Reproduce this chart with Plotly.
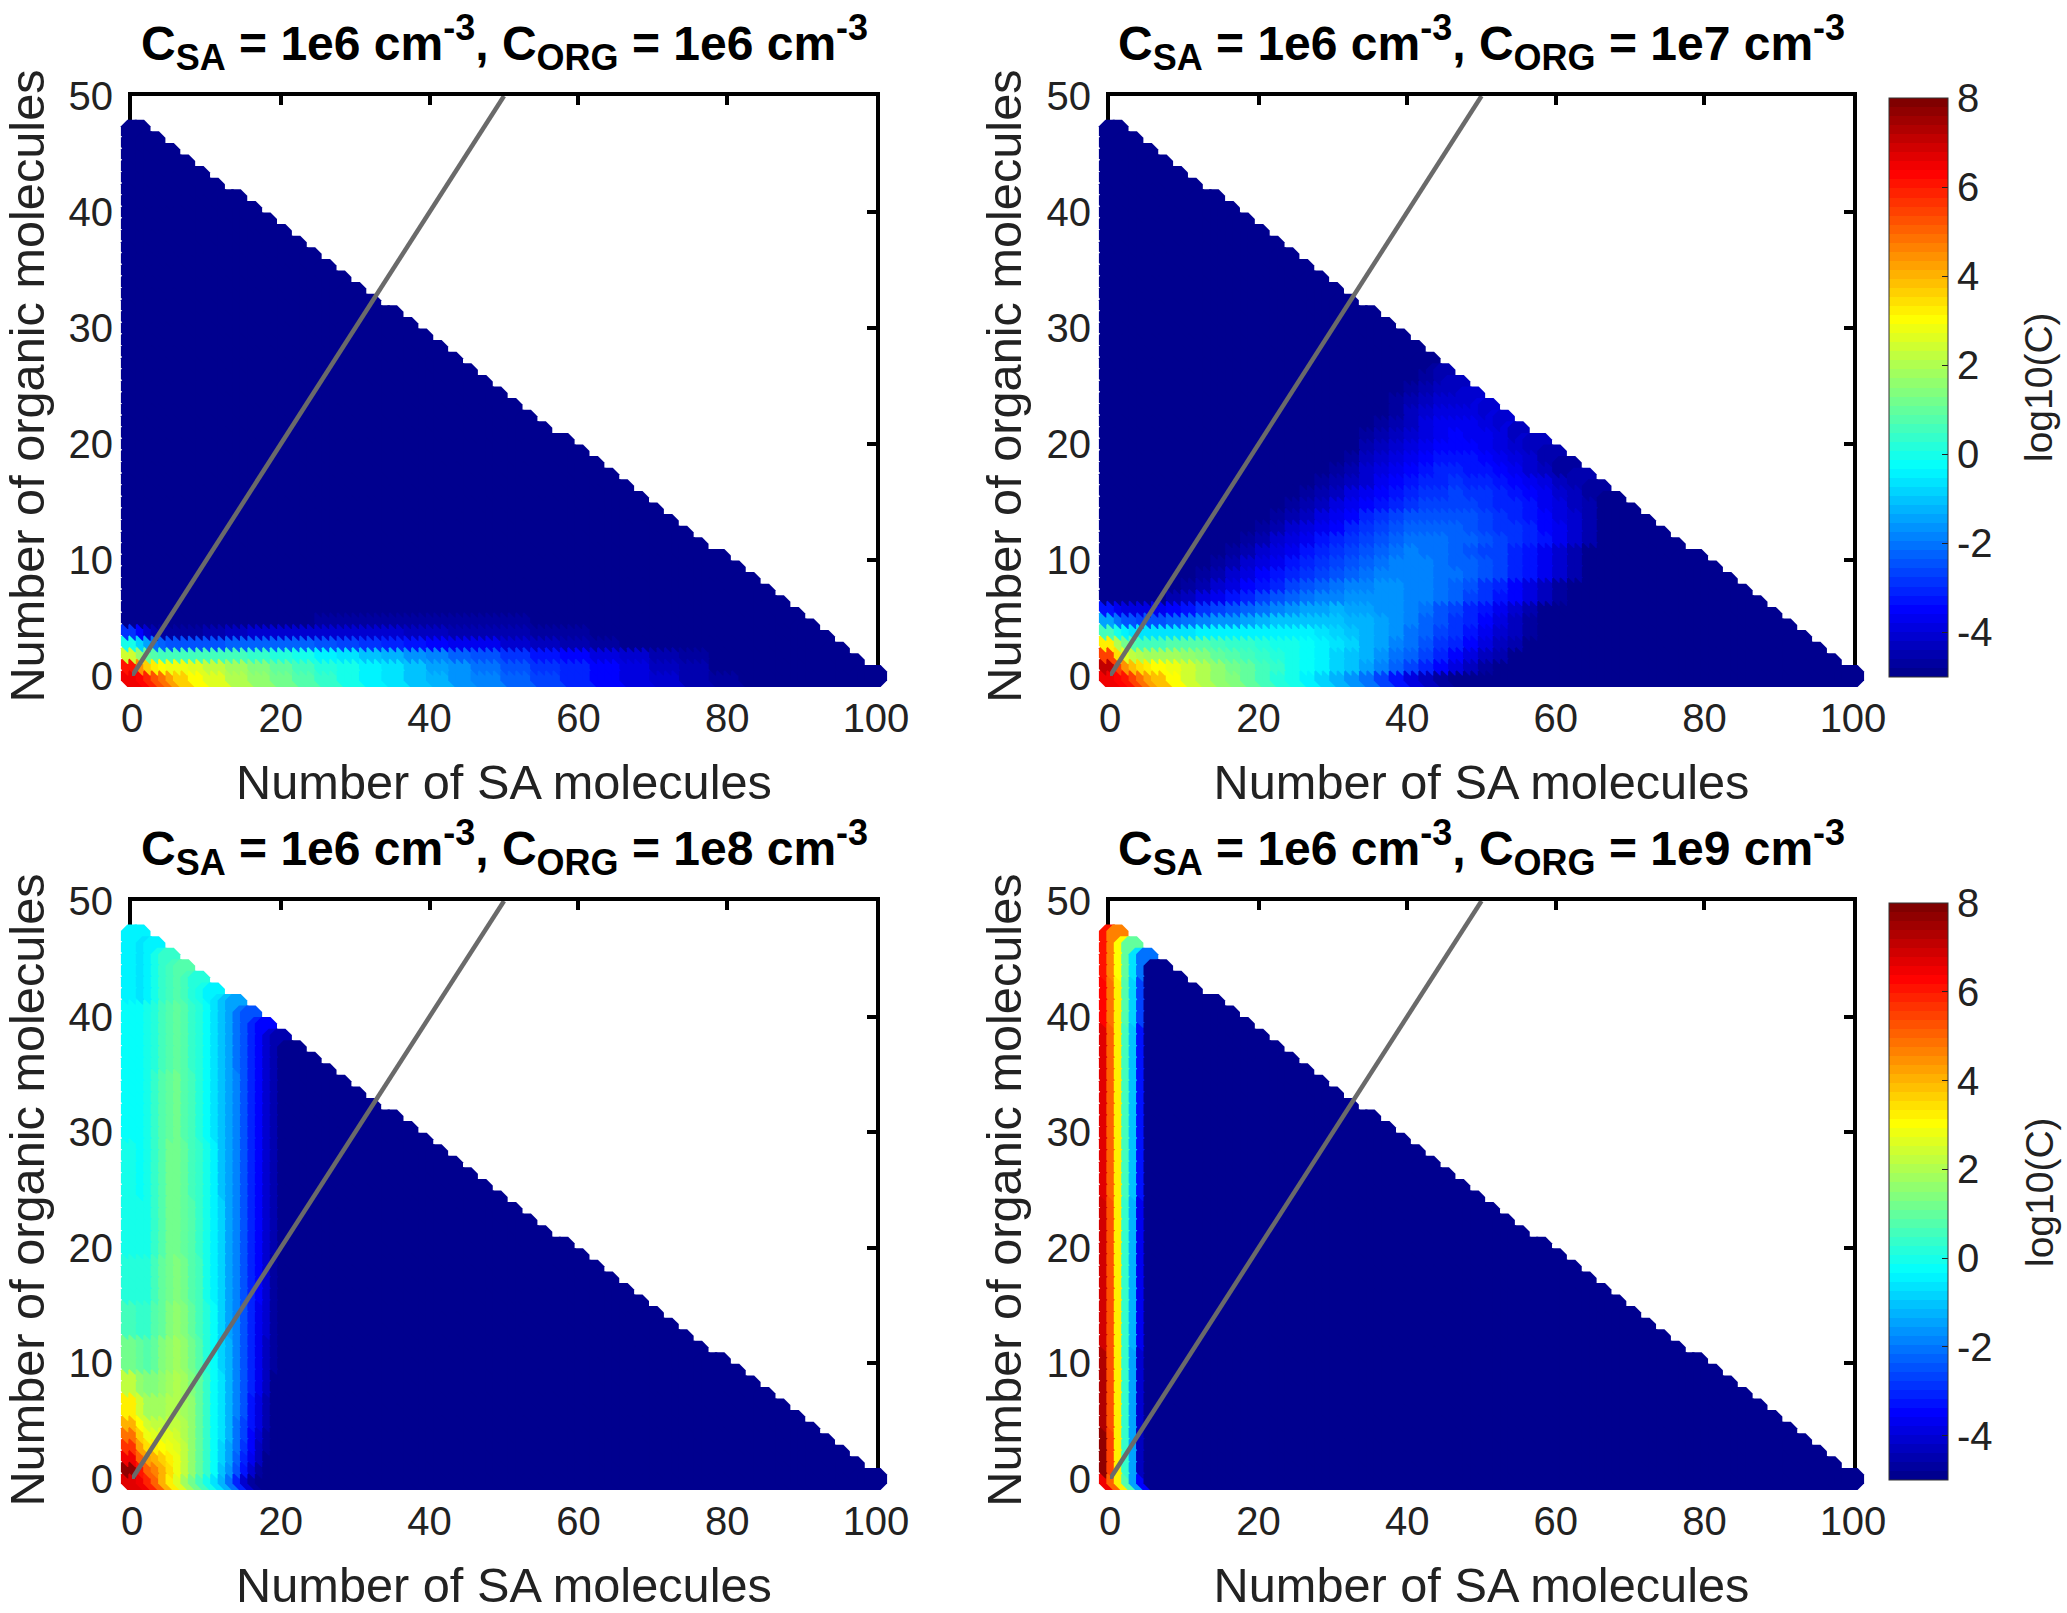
import bisect
import plotly.graph_objects as go

FIG_W, FIG_H = 2067, 1613
N = -4.9

# Largest SA count present at each organic count, y = 0..47
ORG_ROWS = list(range(48))
SA_MAX = [100, 97, 95, 93, 91, 89, 87, 85, 83, 81, 79, 76, 74, 72, 70, 68, 66, 64, 62, 60,
          58, 55, 53, 51, 49, 47, 45, 43, 41, 39, 37, 35, 32, 30, 28, 26, 24, 22, 20, 18,
          16, 14, 11, 9, 7, 5, 3, 1]

SUB = '<sub><span style="font-size:36px">%s</span></sub>'
SUP = '<sup><span style="font-size:36px">-3</span></sup>'
C_ORG = ["1e6", "1e7", "1e8", "1e9"]
TITLES = ["C" + SUB % "SA" + " = 1e6 cm" + SUP + ", C" + SUB % "ORG" + " = " + c + " cm" + SUP for c in C_ORG]
X_TICKS = [0, 20, 40, 60, 80, 100]
Y_TICKS = [0, 10, 20, 30, 40, 50]
CB_TICKS = [-4, -2, 0, 2, 4, 6, 8]
CB_LABELS = ["-4", "-2", "0", "2", "4", "6", "8"]
LINE_X = [0, 50]
LINE_Y = [0, 50]

# log10(C); each value holds from its column / row start up to the next
P1_COLS = [0, 2, 3, 4, 5, 6, 7, 9, 11, 14, 17, 20, 23, 26, 29, 32, 35, 38, 41, 44, 47, 51, 55, 59, 63, 67, 71, 75, 79, 83]
P1_ROWS = [0, 1, 2, 3, 4, 5, 6]
P1_VALUES = [
    [6.4, 6.2, 5.9, 5.3, 4.8, 4.2, 3.7, 3, 2.6, 2, 1.5, 1.1, .7, .3, -.1, -.4, -.7, -1, -1.3, -1.6, -1.9, -2.2, -2.6, -3, -3.4, -3.8, -4.1, -4.4, -4.7, N],
    [6, 4.5, 3.6, 3.2, 3, 2.9, 2.8, 2.6, 2.3, 1.8, 1.4, 1, .6, .2, -.1, -.4, -.7, -1, -1.4, -1.7, -2, -2.4, -2.8, -3.1, -3.5, -3.9, -4.2, -4.5, -4.8, N],
    [2.5, 1.6, 1, .7, .6, .6, .6, .6, .6, .5, .3, .1, -.1, -.4, -.7, -1, -1.3, -1.6, -1.9, -2.2, -2.5, -2.9, -3.2, -3.5, -3.8, -4.1, -4.4, -4.7, N, N],
    [0, -.8, -1.5, -2, -2.3, -2.4, -2.5, -2.5, -2.4, -2.3, -2.2, -2.2, -2.3, -2.4, -2.6, -2.8, -3, -3.2, -3.4, -3.6, -3.7, -4, -4.2, -4.4, -4.6, -4.8, N, N, N, N],
    [-2.8, -3.5, -4, -4.4, -4.6, -4.7, -4.7, -4.6, -4.5, -4.3, -4.1, -4, -4, -4, -4, -4, -4.1, -4.2, -4.3, -4.4, -4.4, -4.5, -4.6, -4.7, -4.8, N, N, N, N, N],
    [N] * 12 + [-4.8, -4.7, -4.7, -4.7, -4.7, -4.7, -4.7, -4.7, -4.7, -4.7, -4.8],
    [N],
]

P2_COLS = [0, 2, 3, 4, 5, 6, 7, 9, 11, 13, 15, 17, 19, 21, 23, 25, 27, 29, 31, 33, 35, 37, 39, 41, 43, 45, 47, 49, 51, 53, 55, 57, 59, 61, 63, 65, 67]
P2_ROWS = list(range(29))
P2_VALUES = [
    [6.5, 6.3, 6, 5.4, 4.8, 4.3, 3.8, 3, 2.5, 2, 1.6, 1.3, 1, .6, .2, -.1, -.5, -.9, -1.2, -1.6, -2.1, -2.6, -3.2, -3.8, -4.3, -4.6, -4.8],
    [7, 5.5, 4.4, 3.8, 3.4, 3.2, 3.1, 2.9, 2.4, 2, 1.6, 1.2, .9, .6, .3, 0, -.2, -.5, -.8, -1.1, -1.4, -1.8, -2.2, -2.6, -3.1, -3.5, -3.9, -4.3, -4.6, -4.8],
    [5.5, 3.5, 2.6, 2.2, 2, 1.9, 1.9, 1.8, 1.6, 1.3, 1, .8, .6, .3, .1, -.1, -.3, -.5, -.8, -1, -1.3, -1.6, -2, -2.3, -2.7, -3, -3.4, -3.8, -4.2, -4.5, -4.8],
    [3.2, 2, 1.2, .8, .6, .6, .6, .7, .8, .7, .6, .4, .3, .1, 0, -.1, -.3, -.5, -.7, -.9, -1.2, -1.5, -1.8, -2.1, -2.4, -2.8, -3.1, -3.5, -3.8, -4.2, -4.5, -4.8],
    [.5, -.1, -.4, -.6, -.7, -.7, -.7, -.7, -.6, -.5, -.5, -.5, -.4, -.4, -.4, -.4, -.5, -.6, -.8, -1, -1.2, -1.4, -1.7, -2, -2.3, -2.6, -2.9, -3.3, -3.6, -4, -4.3, -4.7],
    [-1.5, -2, -2.4, -2.5, -2.6, -2.5, -2.4, -2.2, -2.1, -1.9, -1.7, -1.6, -1.4, -1.3, -1.1, -1, -1, -1, -1.1, -1.2, -1.3, -1.5, -1.7, -1.9, -2.2, -2.5, -2.8, -3.1, -3.4, -3.8, -4.2, -4.6],
    [-3.3, -3.6, -3.8, -3.9, -3.9, -3.8, -3.7, -3.4, -3.2, -2.9, -2.6, -2.4, -2.2, -2, -1.8, -1.6, -1.5, -1.4, -1.3, -1.4, -1.5, -1.6, -1.7, -1.9, -2.1, -2.4, -2.7, -3, -3.3, -3.6, -4, -4.4, -4.8],
    [N] * 7 + [-4.5, -4.3, -3.9, -3.6, -3.3, -3, -2.7, -2.5, -2.3, -2.1, -1.9, -1.8, -1.7, -1.6, -1.6, -1.7, -1.8, -1.9, -2.1, -2.3, -2.6, -2.9, -3.2, -3.5, -3.9, -4.3, -4.7],
    [N] * 8 + [-4.6, -4.4, -4.1, -3.8, -3.5, -3.2, -3, -2.7, -2.5, -2.3, -2.1, -1.9, -1.8, -1.7, -1.7, -1.8, -1.9, -2.1, -2.3, -2.5, -2.8, -3.1, -3.4, -3.8, -4.2, -4.6],
    [N] * 9 + [-4.7, -4.4, -4.1, -3.8, -3.5, -3.3, -3, -2.8, -2.6, -2.4, -2.2, -2, -1.9, -1.8, -1.8, -1.9, -2, -2.1, -2.3, -2.5, -2.7, -3, -3.3, -3.7, -4.1, -4.5, -4.8],
    [N] * 10 + [-4.7, -4.4, -4.1, -3.8, -3.6, -3.3, -3.1, -2.8, -2.6, -2.4, -2.2, -2, -1.9, -1.9, -1.9, -2, -2.2, -2.3, -2.5, -2.7, -3, -3.3, -3.6, -4, -4.5, -4.8],
    [N] * 11 + [-4.7, -4.4, -4.1, -3.9, -3.6, -3.3, -3.1, -2.8, -2.6, -2.4, -2.2, -2, -1.9, -2, -2.1, -2.2, -2.4, -2.6, -2.7, -3, -3.3, -3.6, -4, -4.4, -4.8],
    [N] * 12 + [-4.7, -4.4, -4.1, -3.9, -3.6, -3.3, -3.1, -2.9, -2.7, -2.5, -2.3, -2.1, -2, -2.1, -2.2, -2.3, -2.5, -2.7, -2.8, -3, -3.3, -3.6, -4, -4.4, -4.8],
    [N] * 12 + [-4.9, -4.7, -4.4, -4.1, -3.9, -3.6, -3.4, -3.1, -2.9, -2.7, -2.5, -2.3, -2.2, -2.2, -2.3, -2.4, -2.6, -2.8, -2.9, -3.1, -3.4, -3.7, -4, -4.4, -4.8],
    [N] * 13 + [-4.9, -4.7, -4.4, -4.2, -3.9, -3.6, -3.4, -3.1, -2.9, -2.7, -2.5, -2.4, -2.4, -2.4, -2.5, -2.7, -2.9, -3, -3.2, -3.5, -3.8, -4.1, -4.5, -4.8],
    [N] * 14 + [-4.9, -4.7, -4.4, -4.2, -3.9, -3.7, -3.4, -3.2, -3, -2.8, -2.7, -2.6, -2.6, -2.7, -2.8, -3, -3.1, -3.3, -3.6, -3.9, -4.2, -4.5, -4.8],
    [N] * 15 + [-4.9, -4.7, -4.4, -4.2, -3.9, -3.7, -3.5, -3.3, -3.1, -2.9, -2.8, -2.7, -2.8, -2.9, -3.1, -3.2, -3.4, -3.7, -4, -4.3, -4.6, -4.9],
    [N] * 16 + [-4.8, -4.6, -4.4, -4.2, -4, -3.7, -3.5, -3.3, -3.1, -3, -2.9, -3, -3.1, -3.2, -3.4, -3.6, -3.9, -4.2, -4.5, -4.8],
    [N] * 17 + [-4.8, -4.6, -4.4, -4.1, -3.9, -3.6, -3.4, -3.3, -3.1, -3.1, -3.2, -3.3, -3.5, -3.7, -4, -4.3, -4.6, -4.9],
    [N] * 18 + [-4.8, -4.6, -4.3, -4.1, -3.9, -3.6, -3.5, -3.3, -3.2, -3.3, -3.4, -3.6, -3.8, -4.1, -4.4, -4.7],
    [N] * 19 + [-4.8, -4.5, -4.3, -4, -3.8, -3.6, -3.5, -3.4, -3.5, -3.6, -3.8, -4, -4.3, -4.6, -4.9],
    [N] * 19 + [-4.9, -4.7, -4.5, -4.2, -4, -3.8, -3.6, -3.5, -3.6, -3.7, -3.9, -4.2, -4.4, -4.7],
    [N] * 20 + [-4.8, -4.6, -4.4, -4.2, -3.9, -3.7, -3.6, -3.7, -3.9, -4.1, -4.3, -4.6, -4.8],
    [N] * 21 + [-4.8, -4.6, -4.3, -4.1, -3.9, -3.8, -3.9, -4, -4.2, -4.5, -4.7],
    [N] * 22 + [-4.7, -4.5, -4.3, -4.1, -4, -4.1, -4.2, -4.4, -4.6, -4.8],
    [N] * 23 + [-4.6, -4.4, -4.3, -4.2, -4.3, -4.4, -4.6, -4.8],
    [N] * 24 + [-4.6, -4.5, -4.4, -4.5, -4.6, -4.8],
    [N] * 25 + [-4.8, -4.7, -4.7, -4.8],
    [N],
]

P3_COLS = [0] + list(range(2, 23))
P3_ROWS = [0, 1, 2, 3, 4, 5, 6, 8, 10, 13, 16, 20, 25, 30, 36, 42]
P3_VALUES = [
    [6.6, 6.4, 5.8, 5, 4, 3.2, 2.6, 1.8, 1.2, .6, 0, -.6, -1.2, -2, -3, -4, -4.7],
    [7.6, 6, 5, 4.6, 4, 3.4, 2.8, 2.2, 1.5, .9, .3, -.3, -1, -1.7, -2.5, -3.3, -4, -4.6],
    [6.5, 5, 4.2, 4, 3.6, 3.2, 2.8, 2.3, 1.6, 1, .4, -.2, -.8, -1.5, -2.2, -3, -3.7, -4.3, -4.8],
    [5.6, 4.2, 3.5, 3.2, 3.1, 2.9, 2.6, 2.2, 1.6, 1, .4, -.2, -.8, -1.4, -2.1, -2.8, -3.5, -4.2, -4.7],
    [4.8, 3.6, 2.9, 2.6, 2.6, 2.6, 2.4, 2.1, 1.6, 1, .4, -.2, -.7, -1.3, -2, -2.7, -3.4, -4, -4.6],
    [4, 3.1, 2.4, 2.2, 2.2, 2.3, 2.3, 2, 1.5, 1, .4, -.2, -.7, -1.3, -2, -2.6, -3.3, -3.9, -4.5],
    [3.2, 2.4, 1.9, 1.8, 1.9, 2, 2.1, 1.9, 1.5, .9, .4, -.2, -.7, -1.3, -1.9, -2.5, -3.2, -3.8, -4.4, -4.9],
    [2.2, 1.6, 1.3, 1.4, 1.6, 1.8, 2, 1.8, 1.4, .9, .3, -.2, -.7, -1.3, -1.9, -2.5, -3.1, -3.7, -4.3, -4.8],
    [1.2, .9, .8, 1, 1.3, 1.7, 1.9, 1.6, 1.2, .8, .2, -.3, -.8, -1.3, -1.9, -2.5, -3.1, -3.6, -4.2, -4.7],
    [.6, .4, .4, .7, 1, 1.4, 1.6, 1.4, 1, .6, .1, -.3, -.8, -1.4, -1.9, -2.5, -3, -3.6, -4.1, -4.6],
    [.2, .1, .2, .5, .9, 1.2, 1.3, 1.1, .8, .5, 0, -.4, -.9, -1.4, -1.9, -2.4, -3, -3.5, -4, -4.6],
    [0, -.1, 0, .4, .8, 1.1, 1.2, 1, .7, .4, 0, -.4, -.9, -1.4, -1.9, -2.4, -3, -3.5, -4, -4.5, -4.9],
    [-.1, -.2, -.1, .3, .7, 1.1, 1.2, .9, .6, .3, -.1, -.5, -1, -1.4, -1.9, -2.4, -3, -3.5, -4, -4.5, -4.9],
    [-.2, -.3, -.1, .3, .7, 1, 1.1, .8, .5, .2, -.2, -.6, -1, -1.4, -1.9, -2.4, -3, -3.5, -4, -4.5, -4.9],
    [-.3, -.3, -.1, .2, .6, .8, .9, .7, .4, .1, -.3, -.7, -1.1, -1.5, -2, -2.5, -3, -3.5, -4, -4.5],
    [-.5, -.6, -.4, -.1, .3, .6, .7, .5, .2, -.1, -.4, -.8, -1.2, -1.6, -2, -2.5, -3, -3.5, -4, -4.5],
]

P4_COLS = [0, 1, 2, 3, 4, 5, 6]
P4_ROWS = [0, 1, 5, 12, 25, 40, 44]
P4_VALUES = [
    [6.4, 5, 3.2, .8, -1.5, -3.5],
    [7.6, 5.4, 3.3, .3, -1.5, -4.2],
    [7.3, 5.2, 3.3, .3, -1.4, -4],
    [6.9, 5.2, 3.3, .4, -1.2, -3.6],
    [6.6, 5, 3.2, .5, -1, -3.2],
    [6.3, 4.9, 3.2, .7, -.8, -2.6],
    [6, 4.7, 3.1, 1, -.6, -2],
]

PANELS = [(P1_COLS, P1_ROWS, P1_VALUES), (P2_COLS, P2_ROWS, P2_VALUES),
          (P3_COLS, P3_ROWS, P3_VALUES), (P4_COLS, P4_ROWS, P4_VALUES)]


def lookup(cols, rows, values, x, y):
    row = values[bisect.bisect_right(rows, y) - 1]
    i = bisect.bisect_right(cols, x) - 1
    return row[i] if i < len(row) else N


def jet64():
    anchors = [(0, (0, 0, 143)), (.11, (0, 0, 255)), (.36, (0, 255, 255)), (.62, (255, 255, 0)),
               (.875, (255, 0, 0)), (1, (128, 0, 0))]
    out = []
    for k in range(64):
        t = k / 63
        for (a, ca), (b, cb) in zip(anchors, anchors[1:]):
            if t <= b:
                f = (t - a) / (b - a)
                c = [round(p + (q - p) * f) for p, q in zip(ca, cb)]
                break
        rgb = f"rgb({c[0]},{c[1]},{c[2]})"
        out += [[k / 64, rgb], [(k + 1) / 64, rgb]]
    return out


JET = jet64()

# Pixel frames of the four axes and the colour bars
FRAMES = [(132, 876, 96, 676), (1110, 1853, 96, 676), (132, 876, 901, 1479), (1110, 1853, 901, 1479)]
TITLE_Y = [43, 43, 847, 847]
fig = go.Figure()
annotations = []

for i, ((cols, rows, values), (l, r, t, b)) in enumerate(zip(PANELS, FRAMES)):
    sfx = "" if i == 0 else str(i + 1)
    xs, ys, cs = [], [], []
    for x in range(101):
        for y in ORG_ROWS:
            if x <= SA_MAX[y]:
                xs.append(x)
                ys.append(y)
                cs.append(lookup(cols, rows, values, x, y))
    has_bar = i in (1, 3)
    marker = dict(size=24, symbol="octagon", color=cs, colorscale=JET, cmin=-5, cmax=8, line=dict(width=0), showscale=has_bar)
    if has_bar:
        marker["colorbar"] = dict(
            x=1889 / FIG_W, xref="paper", xanchor="left", xpad=0,
            y=(FIG_H - b - 1) / FIG_H, yref="paper", yanchor="bottom", ypad=0,
            len=(b + 1 - (t + 2)) / FIG_H, lenmode="fraction",
            thickness=59, thicknessmode="pixels", outlinewidth=1, outlinecolor="#333",
            tickmode="array", tickvals=CB_TICKS, ticktext=CB_LABELS, ticks="inside", ticklen=6,
            tickwidth=1, tickcolor="#222", tickfont=dict(size=40, color="#222"))
    fig.add_trace(go.Scatter(x=xs, y=ys, mode="markers", marker=marker, cliponaxis=False, showlegend=False,
                             xaxis="x" + sfx, yaxis="y" + sfx, hoverinfo="skip"))
    fig.add_trace(go.Scatter(x=LINE_X, y=LINE_Y, mode="lines", line=dict(color="#6a6a6a", width=4.5),
                             cliponaxis=False, showlegend=False, xaxis="x" + sfx, yaxis="y" + sfx))
    common = dict(showline=True, linecolor="black", linewidth=4, mirror="ticks", ticks="inside", ticklen=9,
                  tickwidth=3.5, tickcolor="black", showgrid=False, zeroline=False, layer="below traces",
                  tickfont=dict(size=40, color="#222"))
    fig.layout["xaxis" + sfx] = dict(
        domain=[l / FIG_W, r / FIG_W], range=[0, 100], anchor="y" + sfx, tickvals=X_TICKS,
        ticklabelstandoff=4, title=dict(text="Number of SA molecules", font=dict(size=48.7, color="#222"), standoff=27),
        **common)
    fig.layout["yaxis" + sfx] = dict(
        domain=[1 - b / FIG_H, 1 - t / FIG_H], range=[0, 50], anchor="x" + sfx, tickvals=Y_TICKS,
        ticklabelstandoff=7, title=dict(text="Number of organic molecules", font=dict(size=48.7, color="#222"), standoff=10),
        **common)
    annotations.append(dict(text="<b>" + TITLES[i] + "</b>", x=(l + r) / 2 / FIG_W, y=1 - TITLE_Y[i] / FIG_H,
                            xref="paper", yref="paper", xanchor="center", yanchor="middle", showarrow=False,
                            font=dict(size=48, color="black")))
    if has_bar:
        annotations.append(dict(text="log10(C)", textangle=-90, x=2039 / FIG_W, y=1 - (t + 291) / FIG_H,
                                xref="paper", yref="paper", xanchor="center", yanchor="middle", showarrow=False,
                                font=dict(size=39, color="#222")))

fig.update_layout(width=FIG_W, height=FIG_H, margin=dict(l=0, r=0, t=0, b=0, autoexpand=False), paper_bgcolor="white",
                  plot_bgcolor="white", font=dict(family="Liberation Sans, Arial, sans-serif"),
                  annotations=annotations, showlegend=False)
fig.write_html("out.html", config={"displayModeBar": False}, post_script="document.body.style.margin='0';")
